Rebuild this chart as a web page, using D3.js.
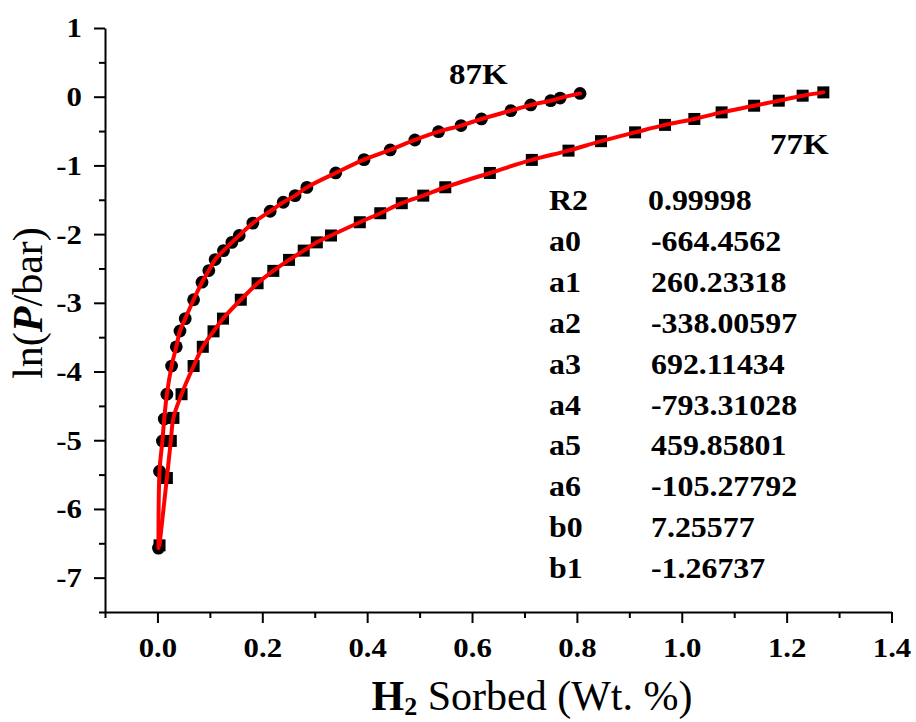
<!DOCTYPE html>
<html>
<head>
<meta charset="utf-8">
<script src="https://cdn.jsdelivr.net/npm/d3@7"></script>
<style>
  html, body { margin: 0; padding: 0; background: #fff; }
  svg { display: block; }
  svg text { font-family: "Liberation Serif", "Times New Roman", serif; }
</style>
</head>
<body>
<svg id="chart" width="916" height="722"></svg>
<script>
// H2 uptake (wt. %) and ln(P/bar) for the 87 K isotherm
const h2_87K = [0.002, 0.004, 0.0095, 0.013, 0.018, 0.027, 0.036, 0.043, 0.053, 0.069,
  0.085, 0.098, 0.110, 0.126, 0.142, 0.156, 0.182, 0.215, 0.240, 0.2625,
  0.285, 0.340, 0.394, 0.444, 0.491, 0.536, 0.579, 0.618, 0.674, 0.712,
  0.750, 0.768, 0.806];
const lnP_87K = [-6.57, -5.45, -5.01, -4.69, -4.33, -3.92, -3.64, -3.41, -3.23, -2.955,
  -2.70, -2.53, -2.37, -2.24, -2.12, -2.02, -1.84, -1.667, -1.536, -1.44,
  -1.32, -1.11, -0.916, -0.775, -0.63, -0.509, -0.42, -0.324, -0.203, -0.12,
  -0.058, -0.02, 0.048];

// H2 uptake (wt. %) and ln(P/bar) for the 77 K isotherm
const h2_77K = [0.004, 0.018, 0.0255, 0.0305, 0.046, 0.069, 0.0865, 0.107, 0.125, 0.159,
  0.191, 0.221, 0.251, 0.279, 0.304, 0.331, 0.386, 0.425, 0.466, 0.507,
  0.549, 0.634, 0.714, 0.784, 0.846, 0.911, 0.968, 1.024, 1.076, 1.138,
  1.185, 1.2305, 1.27];
const lnP_77K = [-6.53, -5.55, -5.01, -4.675, -4.33, -3.92, -3.64, -3.415, -3.23, -2.955,
  -2.715, -2.535, -2.375, -2.24, -2.12, -2.02, -1.827, -1.696, -1.55, -1.44,
  -1.318, -1.11, -0.92, -0.785, -0.647, -0.519, -0.41, -0.324, -0.228, -0.131,
  -0.058, 0.015, 0.063];

// Axis ticks
const xMajorTicks = [0, 0.2, 0.4, 0.6, 0.8, 1.0, 1.2, 1.4];
const xMinorTicks = [-0.1, 0.1, 0.3, 0.5, 0.7, 0.9, 1.1, 1.3];
const yMajorTicks = [-7, -6, -5, -4, -3, -2, -1, 0, 1];
const yMinorTicks = [-7.5, -6.5, -5.5, -4.5, -3.5, -2.5, -1.5, -0.5, 0.5];

// Virial fit parameters
const fitNames = ["R2", "a0", "a1", "a2", "a3", "a4", "a5", "a6", "b0", "b1"];
const fitValues = ["0.99998", "-664.4562", "260.23318", "-338.00597", "692.11434",
  "-793.31028", "459.85801", "-105.27792", "7.25577", "-1.26737"];

const seriesNames = ["87K", "77K"];

const FONT = '"Liberation Serif", "Times New Roman", serif';
const WIDEN = 1.1; // bold labels are set slightly wide

const svg = d3.select("#chart");
const x = d3.scaleLinear().domain([-0.1, 1.4]).range([105, 891.5]);
const y = d3.scaleLinear().domain([-7.5, 1]).range([612, 28]);

const fmtX = d3.format(".1f");
const fmtY = d => String(d);

// Widen a text horizontally around its own anchor point
function widen(sel, sx) {
  sel.each(function () {
    const t = d3.select(this);
    const tx = +t.attr("x") || 0, ty = +t.attr("y") || 0;
    t.attr("transform", `translate(${tx},${ty}) scale(${sx},1)`).attr("x", 0).attr("y", 0);
  });
}

// Minor ticks
svg.append("g").attr("transform", `translate(0,${y(-7.5)})`)
  .call(d3.axisBottom(x).tickValues(xMinorTicks).tickSize(6).tickFormat(""))
  .call(g => g.select(".domain").remove());
svg.append("g").attr("transform", `translate(${x(-0.1)},0)`)
  .call(d3.axisLeft(y).tickValues(yMinorTicks).tickSize(6).tickFormat(""))
  .call(g => g.select(".domain").remove());

// Major axes
const xAxis = svg.append("g").attr("transform", `translate(0,${y(-7.5)})`)
  .call(d3.axisBottom(x).tickValues(xMajorTicks).tickSize(11).tickSizeOuter(0)
    .tickPadding(14).tickFormat(fmtX));
const yAxis = svg.append("g").attr("transform", `translate(${x(-0.1)},0)`)
  .call(d3.axisLeft(y).tickValues(yMajorTicks).tickSize(11).tickSizeOuter(0)
    .tickPadding(12).tickFormat(fmtY));

svg.selectAll(".tick line, .domain").attr("stroke", "#000").attr("stroke-width", 2);
[xAxis, yAxis].forEach(g => {
  g.attr("font-family", null);
  const tx = g.selectAll("text")
    .style("font-family", FONT).style("font-weight", "bold")
    .style("font-size", "28px").attr("fill", "#000");
  widen(tx, WIDEN);
});

// Axis titles
const xt = svg.append("text").attr("x", 532).attr("y", 710)
  .attr("text-anchor", "middle").style("font-size", "42px").attr("fill", "#000");
xt.append("tspan").style("font-weight", "bold").text("H");
xt.append("tspan").style("font-weight", "bold").style("font-size", "26px").attr("dy", 5).text("2");
xt.append("tspan").attr("dy", -5).text(" Sorbed (Wt. %)");

const yt = svg.append("text").attr("transform", "translate(42,303) rotate(-90)")
  .attr("text-anchor", "middle").style("font-size", "42px").attr("fill", "#000");
yt.append("tspan").text("ln(");
yt.append("tspan").style("font-weight", "bold").style("font-style", "italic").text("P");
yt.append("tspan").text("/bar)");

// Markers
const d87 = h2_87K.map((v, i) => [v, lnP_87K[i]]);
const d77 = h2_77K.map((v, i) => [v, lnP_77K[i]]);

svg.append("g").selectAll("rect").data(d77).join("rect")
  .attr("x", d => x(d[0]) - 6).attr("y", d => y(d[1]) - 6)
  .attr("width", 12).attr("height", 12).attr("fill", "#000");
svg.append("g").selectAll("circle").data(d87).join("circle")
  .attr("cx", d => x(d[0])).attr("cy", d => y(d[1])).attr("r", 6.4).attr("fill", "#000");

// Fitted curves
const line = d3.line().x(d => x(d[0])).y(d => y(d[1])).curve(d3.curveCatmullRom.alpha(0.5));
[d87, d77].forEach(d => svg.append("path").datum(d).attr("d", line)
  .attr("fill", "none").attr("stroke", "#ff0000").attr("stroke-width", 4)
  .attr("stroke-linejoin", "round").attr("stroke-linecap", "round"));

// Series labels
const lbls = svg.append("g").style("font-weight", "bold").style("font-size", "30px").attr("fill", "#000");
lbls.append("text").attr("x", 449).attr("y", 84).text(seriesNames[0]);
lbls.append("text").attr("x", 770).attr("y", 154).text(seriesNames[1]);
widen(lbls.selectAll("text"), WIDEN);

// Fit parameter table
const tbl = svg.append("g").style("font-weight", "bold").style("font-size", "29px").attr("fill", "#000");
fitNames.forEach((n, i) => {
  const by = 210 + i * 40.9;
  tbl.append("text").attr("x", 549).attr("y", by).text(n);
  tbl.append("text").attr("x", i === 0 ? 648 : 651).attr("y", by).text(fitValues[i]);
});
widen(tbl.selectAll("text"), WIDEN);
</script>
</body>
</html>
